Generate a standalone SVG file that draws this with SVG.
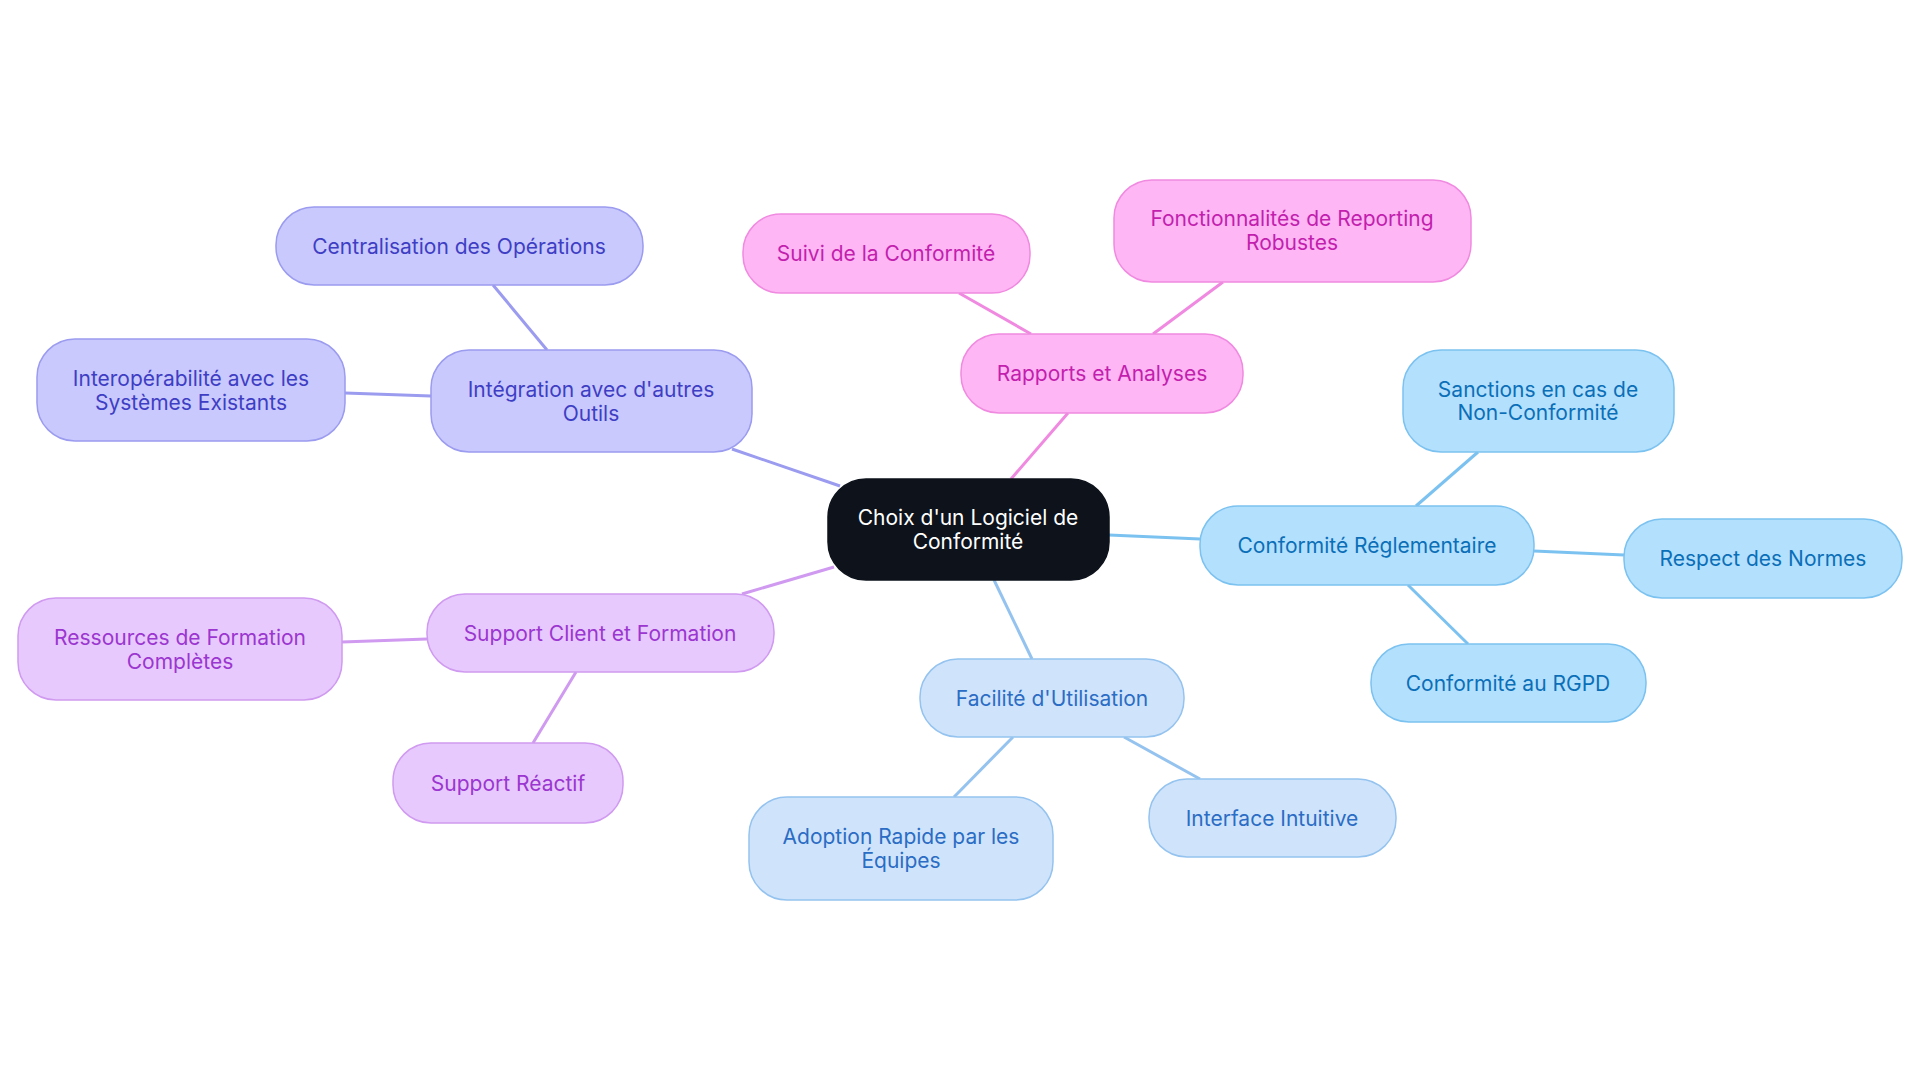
<svg xmlns="http://www.w3.org/2000/svg" width="1920" height="1083" viewBox="0 0 1920 1083">
<style>
text{font-family:Inter,"Noto Sans",sans-serif;font-size:21px;text-anchor:middle;dominant-baseline:central}
rect{stroke-width:1.5}
.a rect{fill:#c9c9fd;stroke:#9b9bf0}.a text{fill:#3e3ec4}
.p rect{fill:#ffb6f5;stroke:#f08ae0}.p text{fill:#c21fae}
.b rect{fill:#b3e0fd;stroke:#7cc2f0}.b text{fill:#0b6fb8}
.f rect{fill:#cfe4fb;stroke:#95c3ef}.f text{fill:#2b6cc4}
.l rect{fill:#e8c9fd;stroke:#cf9af0}.l text{fill:#9b36d0}
line{stroke-width:3}
</style>
<rect width="1920" height="1083" fill="#fff"/>
<g id="connectors">
<line x1="840" y1="486" x2="732" y2="449" stroke="#9b9bf0"/>
<line x1="547" y1="350" x2="493" y2="285" stroke="#9b9bf0"/>
<line x1="431" y1="396" x2="345" y2="393" stroke="#9b9bf0"/>
<line x1="834" y1="567" x2="742" y2="594" stroke="#cf9af0"/>
<line x1="427" y1="639" x2="342" y2="642" stroke="#cf9af0"/>
<line x1="576" y1="672" x2="533" y2="743" stroke="#cf9af0"/>
<line x1="1011" y1="479" x2="1068" y2="413" stroke="#f08ae0"/>
<line x1="1031" y1="334" x2="959" y2="293" stroke="#f08ae0"/>
<line x1="1153" y1="334" x2="1223" y2="282" stroke="#f08ae0"/>
<line x1="1109" y1="535" x2="1200" y2="539" stroke="#7cc2f0"/>
<line x1="1416" y1="506" x2="1478" y2="452" stroke="#7cc2f0"/>
<line x1="1534" y1="551" x2="1624" y2="555" stroke="#7cc2f0"/>
<line x1="1408" y1="585" x2="1468" y2="644" stroke="#7cc2f0"/>
<line x1="994" y1="580" x2="1032" y2="659" stroke="#95c3ef"/>
<line x1="1013" y1="737" x2="954" y2="797" stroke="#95c3ef"/>
<line x1="1124" y1="737" x2="1200" y2="779" stroke="#95c3ef"/>
</g>
<g id="center"><rect x="828" y="479" width="281" height="101" rx="38" fill="#0d121b" stroke="#0d121b"/><text x="968" y="517" fill="#fff">Choix d'un Logiciel de</text><text x="968" y="541" fill="#fff">Conformité</text></g>
<g id="integration" class="a"><rect x="431" y="350" width="321" height="102" rx="38"/><text x="591" y="389">Intégration avec d'autres</text><text x="591" y="413">Outils</text></g>
<g id="centralisation" class="a"><rect x="276" y="207" width="367" height="78" rx="38"/><text x="459" y="246">Centralisation des Opérations</text></g>
<g id="interop" class="a"><rect x="37" y="339" width="308" height="102" rx="38"/><text x="191" y="378">Interopérabilité avec les</text><text x="191" y="402">Systèmes Existants</text></g>
<g id="support" class="l"><rect x="427" y="594" width="347" height="78" rx="38"/><text x="600" y="633">Support Client et Formation</text></g>
<g id="ressources" class="l"><rect x="18" y="598" width="324" height="102" rx="38"/><text x="180" y="637">Ressources de Formation</text><text x="180" y="661">Complètes</text></g>
<g id="reactif" class="l"><rect x="393" y="743" width="230" height="80" rx="38"/><text x="508" y="783">Support Réactif</text></g>
<g id="rapports" class="p"><rect x="961" y="334" width="282" height="79" rx="38"/><text x="1102" y="373">Rapports et Analyses</text></g>
<g id="suivi" class="p"><rect x="743" y="214" width="287" height="79" rx="38"/><text x="886" y="253">Suivi de la Conformité</text></g>
<g id="fonctionnalites" class="p"><rect x="1114" y="180" width="357" height="102" rx="38"/><text x="1292" y="218">Fonctionnalités de Reporting</text><text x="1292" y="242">Robustes</text></g>
<g id="reglementaire" class="b"><rect x="1200" y="506" width="334" height="79" rx="38"/><text x="1367" y="545">Conformité Réglementaire</text></g>
<g id="sanctions" class="b"><rect x="1403" y="350" width="271" height="102" rx="38"/><text x="1538" y="389">Sanctions en cas de</text><text x="1538" y="412">Non-Conformité</text></g>
<g id="respect" class="b"><rect x="1624" y="519" width="278" height="79" rx="38"/><text x="1763" y="558">Respect des Normes</text></g>
<g id="rgpd" class="b"><rect x="1371" y="644" width="275" height="78" rx="38"/><text x="1508" y="683">Conformité au RGPD</text></g>
<g id="facilite" class="f"><rect x="920" y="659" width="264" height="78" rx="38"/><text x="1052" y="698">Facilité d'Utilisation</text></g>
<g id="adoption" class="f"><rect x="749" y="797" width="304" height="103" rx="38"/><text x="901" y="836">Adoption Rapide par les</text><text x="901" y="860">Équipes</text></g>
<g id="interface" class="f"><rect x="1149" y="779" width="247" height="78" rx="38"/><text x="1272" y="818">Interface Intuitive</text></g>
</svg>
